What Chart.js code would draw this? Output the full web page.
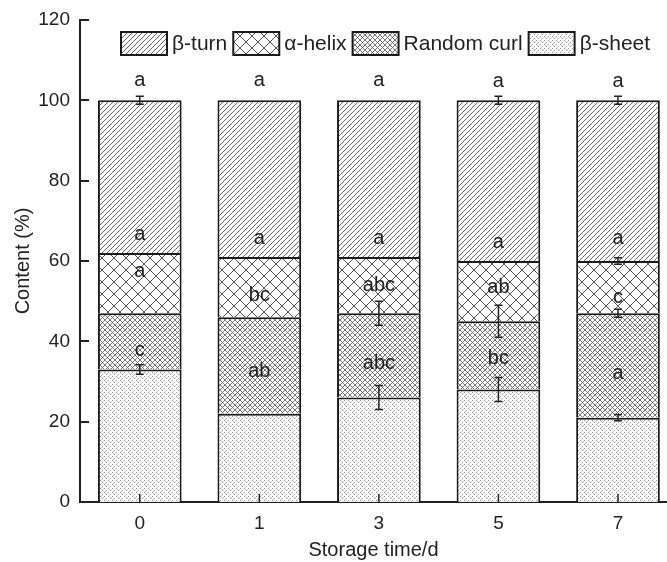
<!DOCTYPE html>
<html>
<head>
<meta charset="utf-8">
<script src="https://cdn.jsdelivr.net/npm/chart.js@4"></script>
<style>
  html, body { margin: 0; padding: 0; background: #fff; }
  #wrap { width: 667px; height: 562px; }
</style>
</head>
<body>
<div id="wrap"><canvas id="chart" width="667" height="562"></canvas></div>
<script>
const days = ["0", "1", "3", "5", "7"];
// stacked contents (%), bottom to top
const betaSheet  = [33, 22, 26, 28, 21];
const randomCurl = [14, 24, 21, 17, 26];
const alphaHelix = [15, 15, 14, 15, 13];
const betaTurn   = [38, 39, 39, 40, 40];
// error bars at the top of each segment (0 = none drawn)
const betaSheetErr  = [1.2, 0, 3, 3, 0.8];
const randomCurlErr = [0, 0, 3, 4, 1];
const alphaHelixErr = [0, 0, 0, 0, 0.8];
const betaTurnErr   = [1, 0, 0, 1, 1];
// significance letters, and the content (%) level they sit at
const sheetLetters = ["c", "ab", "abc", "bc", "a"];
const sheetLetterAt = [37.8, 32.4, 34.6, 35.8, 32.1];
const curlLetters = ["a", "bc", "abc", "ab", "c"];
const curlLetterAt = [57.3, 51.3, 54, 53.5, 51];
const helixLetters = ["a", "a", "a", "a", "a"];
const helixLetterAt = [66.5, 65.5, 65.7, 64.5, 65.5];
const turnLetters = ["a", "a", "a", "a", "a"];
const turnLetterAt = [105, 105, 105, 104.6, 104.6];

const FONT = "'Liberation Sans', Arial, Helvetica, sans-serif";
const INK = "#222";

//hatch fills like the origin plot
function makePattern(size, paint) {
  const c = document.createElement("canvas");
  c.width = size;
  c.height = size;
  const g = c.getContext("2d");
  g.fillStyle = "#fff";
  g.fillRect(0, 0, size, size);
  paint(g, size);
  return g.createPattern(c, "repeat");
}
function diag(g, s, dir) {
  g.beginPath();
  for (let k = -1; k <= 1; k++) {
    if (dir > 0) {
      g.moveTo(k * s, s);
      g.lineTo(k * s + s, 0);
    } else {
      g.moveTo(k * s, 0);
      g.lineTo(k * s + s, s);
    }
  }
  g.stroke();
}
const turnFill = makePattern(5, (g, s) => {
  g.strokeStyle = "#555";
  g.lineWidth = 0.9;
  diag(g, s, 1);
});
const helixFill = makePattern(12, (g, s) => {
  g.strokeStyle = "#444";
  g.lineWidth = 0.9;
  diag(g, s, 1);
  diag(g, s, -1);
});
const curlFill = makePattern(5, (g, s) => {
  g.strokeStyle = "#555";
  g.lineWidth = 0.8;
  diag(g, s, 1);
  diag(g, s, -1);
});
const sheetFill = makePattern(8, (g) => {
  g.fillStyle = "#9a9a9a";
  const dots = [[0, 0], [4, 4], [2, 2], [6, 6], [2, 6], [6, 2], [0, 4], [4, 0]];
  dots.forEach(([a, b]) => g.fillRect(a, b, 1, 1));
  g.fillStyle = "#c6c6c6";
  [[1, 3], [5, 7], [3, 5], [7, 1], [1, 5], [5, 1]].forEach(([a, b]) => g.fillRect(a, b, 1, 1));
});

const series = [betaSheet, randomCurl, alphaHelix, betaTurn];
const errs = [betaSheetErr, randomCurlErr, alphaHelixErr, betaTurnErr];
const letters = [
  [sheetLetters, sheetLetterAt],
  [curlLetters, curlLetterAt],
  [helixLetters, helixLetterAt],
  [turnLetters, turnLetterAt],
];

const toPoints = (arr) => arr.map((v, i) => ({ x: i, y: v }));
const barStyle = {
  borderColor: "#1a1a1a",
  borderWidth: 2,
  borderSkipped: "start",
  barPercentage: 0.7,
  categoryPercentage: 1,
};

// inward ticks, error bars, letters and the in-plot legend
const extras = {
  id: "extras",
  afterDatasetsDraw(chart) {
    const { ctx, chartArea } = chart;
    const x = chart.scales.x;
    const y = chart.scales.y;
    ctx.save();
    ctx.strokeStyle = INK;
    ctx.lineWidth = 2;
    y.ticks.forEach((t) => {
      const py = Math.round(y.getPixelForValue(t.value));
      ctx.beginPath();
      ctx.moveTo(chartArea.left, py);
      ctx.lineTo(chartArea.left + 9, py);
      ctx.stroke();
    });
    ctx.lineWidth = 1.5;
    x.ticks.forEach((t) => {
      const px = x.getPixelForValue(t.value);
      ctx.beginPath();
      ctx.moveTo(px, chartArea.bottom);
      ctx.lineTo(px, chartArea.bottom - 8);
      ctx.stroke();
    });

    //error bars at each cumulative top
    ctx.lineWidth = 1.5;
    errs.forEach((err, di) => {
      days.forEach((d, i) => {
        if (!err[i]) return;
        let top = 0;
        for (let k = 0; k <= di; k++) top += series[k][i];
        const px = x.getPixelForValue(i);
        const hi = y.getPixelForValue(top + err[i]);
        const lo = y.getPixelForValue(top - err[i]);
        ctx.beginPath();
        ctx.moveTo(px, hi);
        ctx.lineTo(px, lo);
        ctx.moveTo(px - 4, hi);
        ctx.lineTo(px + 4, hi);
        ctx.moveTo(px - 4, lo);
        ctx.lineTo(px + 4, lo);
        ctx.stroke();
      });
    });

    ctx.fillStyle = INK;
    ctx.font = "20px " + FONT;
    ctx.textAlign = "center";
    ctx.textBaseline = "middle";
    letters.forEach(([txt, at]) => {
      txt.forEach((s, i) => {
        ctx.fillText(s, x.getPixelForValue(i), y.getPixelForValue(at[i]));
      });
    });

    // legend, top item first, in one row inside the plot
    ctx.font = "21px " + FONT;
    ctx.textAlign = "left";
    let lx = chartArea.left + 41;
    const ly = chartArea.top + 12;
    chart.data.datasets.slice().reverse().forEach((ds) => {
      ctx.fillStyle = ds.backgroundColor;
      ctx.fillRect(lx, ly, 46, 23);
      ctx.lineWidth = 2;
      ctx.strokeStyle = "#1a1a1a";
      ctx.strokeRect(lx, ly, 46, 23);
      ctx.fillStyle = INK;
      ctx.fillText(ds.label, lx + 51, ly + 12);
      lx += 46 + 5 + ctx.measureText(ds.label).width + 6;
    });
    ctx.restore();
  },
};

new Chart(document.getElementById("chart"), {
  type: "bar",
  data: {
    datasets: [
      { label: "β-sheet", data: toPoints(betaSheet), backgroundColor: sheetFill, ...barStyle },
      { label: "Random curl", data: toPoints(randomCurl), backgroundColor: curlFill, ...barStyle },
      { label: "α-helix", data: toPoints(alphaHelix), backgroundColor: helixFill, ...barStyle },
      { label: "β-turn", data: toPoints(betaTurn), backgroundColor: turnFill, ...barStyle },
    ],
  },
  options: {
    responsive: false,
    animation: false,
    layout: { padding: { top: 20, right: 0, bottom: 0, left: 0 } },
    plugins: {
      tooltip: { enabled: false },
      legend: { display: false },
    },
    scales: {
      x: {
        type: "linear",
        stacked: true,
        offset: false,
        min: -0.5,
        max: 4.41,
        grid: { display: false },
        border: { color: INK, width: 2 },
        afterBuildTicks: (s) => {
          s.ticks = days.map((d, i) => ({ value: i }));
        },
        afterFit: (s) => {
          s.height = 60;
        },
        ticks: {
          callback: (v) => days[v],
          padding: 2,
          color: INK,
          font: { family: FONT, size: 19 },
        },
        title: {
          display: true,
          text: "Storage time/d",
          color: INK,
          padding: { top: 0, bottom: 0 },
          font: { family: FONT, size: 20 },
        },
      },
      y: {
        stacked: true,
        min: 0,
        max: 120,
        grid: { display: false },
        border: { color: INK, width: 2 },
        afterFit: (s) => {
          s.width = 80;
        },
        ticks: {
          stepSize: 20,
          padding: 2,
          color: INK,
          font: { family: FONT, size: 19 },
        },
        title: {
          display: true,
          text: "Content (%)",
          color: INK,
          padding: { top: 11, bottom: 0 },
          font: { family: FONT, size: 20 },
        },
      },
    },
  },
  plugins: [extras],
});
</script>
</body>
</html>
